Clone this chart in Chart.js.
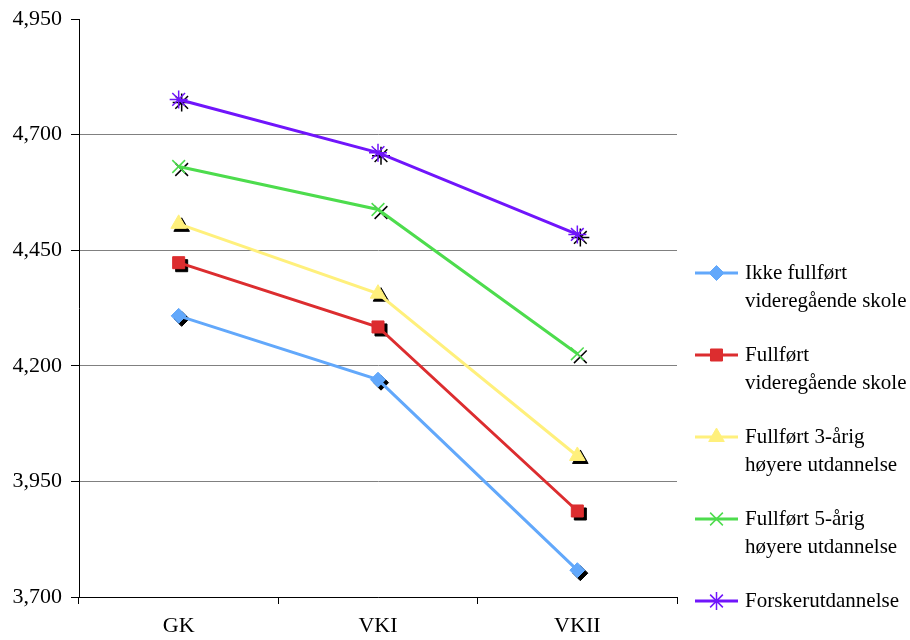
<!DOCTYPE html>
<html>
<head>
<meta charset="utf-8">
<script src="https://cdn.jsdelivr.net/npm/chart.js@4/dist/chart.umd.min.js"></script>
<style>
  html, body { margin: 0; padding: 0; background: #fff; }
  #wrap { width: 910px; height: 640px; position: relative; }
</style>
</head>
<body>
<div id="wrap"><canvas id="c" width="910" height="640"></canvas></div>
<script>
// Categories (school level) and the five series of values
const categories = ['GK', 'VKI', 'VKII'];
const ikkeFullfortVgs = [4308, 4170, 3758];
const fullfortVgs = [4423, 4284, 3886];
const fullfort3Arig = [4507, 4356, 4005];
const fullfort5Arig = [4631, 4538, 4226];
const forskerutdannelse = [4776, 4661, 4484];

// Series names, split over lines as shown in the legend
const seriesNames = [
  ['Ikke fullført', 'videregående skole'],
  ['Fullført', 'videregående skole'],
  ['Fullført 3-årig', 'høyere utdannelse'],
  ['Fullført 5-årig', 'høyere utdannelse'],
  ['Forskerutdannelse']
];

// Value axis range
const yMin = 3700;
const yMax = 4950;
const yStep = 250;

const FONT = "'Liberation Serif', 'Times New Roman', serif";
Chart.defaults.font.family = FONT;
Chart.defaults.font.size = 22;
Chart.defaults.color = '#000';

function series(name, data, color, style, radius) {
  return {
    label: name.join(' '),
    data: data,
    borderColor: color,
    backgroundColor: color,
    borderWidth: 3,
    tension: 0,
    pointStyle: style,
    pointRadius: radius,
    pointBorderWidth: (style === 'crossRot' || style === 'star') ? 1.5 : 1,
    pointBackgroundColor: color,
    pointBorderColor: color,
    fill: false
  };
}

const datasets = [
  series(seriesNames[0], ikkeFullfortVgs, '#62a8fb', 'rectRot', 7.5),
  series(seriesNames[1], fullfortVgs, '#dc2d2f', 'rect', 8.5),
  series(seriesNames[2], fullfort3Arig, '#fff07c', 'triangle', 9),
  series(seriesNames[3], fullfort5Arig, '#4ddc4d', 'crossRot', 9),
  series(seriesNames[4], forskerutdannelse, '#7015fb', 'star', 9)
];

function pointOpts(o) {
  return { pointStyle: o.pointStyle, radius: o.radius, rotation: o.rotation || 0, borderWidth: o.borderWidth };
}

// Black drop shadow under each marker, drawn before the series itself
const markerShadow = {
  id: 'markerShadow',
  beforeDatasetDraw(chart, args) {
    const ctx = chart.ctx;
    ctx.save();
    ctx.fillStyle = '#000';
    ctx.strokeStyle = '#000';
    args.meta.data.forEach(pt => {
      const o = pt.options;
      ctx.lineWidth = o.borderWidth;
      Chart.helpers.drawPoint(ctx, pointOpts(o), pt.x + 3, pt.y + 3);
    });
    ctx.restore();
  }
};

// Legend on the right with two-line entries
const sideLegend = {
  id: 'sideLegend',
  afterDraw(chart) {
    const ctx = chart.ctx;
    const x0 = 695, x1 = 738, tx = 745;
    const top = 273, gap = 82, lineGap = 28;
    ctx.save();
    chart.data.datasets.forEach((ds, i) => {
      const y = top + gap * i;
      ctx.strokeStyle = ds.borderColor;
      ctx.lineWidth = 3;
      ctx.beginPath();
      ctx.moveTo(x0, y);
      ctx.lineTo(x1, y);
      ctx.stroke();
      const o = chart.getDatasetMeta(i).data[0].options;
      ctx.fillStyle = ds.backgroundColor;
      ctx.strokeStyle = ds.borderColor;
      ctx.lineWidth = o.borderWidth;
      Chart.helpers.drawPoint(ctx, pointOpts(o), (x0 + x1) / 2, y);
      ctx.fillStyle = '#000';
      ctx.font = '21px ' + FONT;
      ctx.textAlign = 'left';
      ctx.textBaseline = 'middle';
      seriesNames[i].forEach((line, j) => {
        ctx.fillText(line, tx, y + lineGap * j);
      });
    });
    ctx.restore();
  }
};

new Chart(document.getElementById('c'), {
  type: 'line',
  data: { labels: categories, datasets: datasets },
  plugins: [markerShadow, sideLegend],
  options: {
    responsive: false,
    animation: false,
    locale: 'en-US',
    layout: { padding: { top: 19, right: 233, bottom: 0, left: 0 } },
    plugins: {
      legend: { display: false },
      tooltip: { enabled: false }
    },
    scales: {
      x: {
        offset: true,
        grid: {
          offset: true,
          drawOnChartArea: false,
          drawTicks: true,
          tickLength: 7,
          tickColor: '#000'
        },
        border: { display: true, color: '#000', width: 1 },
        ticks: { padding: 9, font: { size: 22 }, color: '#000' },
        afterFit(scale) { scale.height = 43; }
      },
      y: {
        min: yMin,
        max: yMax,
        grid: {
          color: (c) => (c.tick && c.tick.value === yMax) ? 'rgba(0,0,0,0)' : '#808080',
          lineWidth: 1,
          tickLength: 8,
          tickColor: '#000'
        },
        border: { display: true, color: '#000', width: 1 },
        ticks: {
          stepSize: yStep,
          padding: 9,
          font: { size: 22 },
          color: '#000',
          callback: (v) => v.toLocaleString('en-US')
        },
        afterFit(scale) {
          scale.width = 79;
          scale.paddingTop = 0;
          scale.paddingBottom = 0;
        }
      }
    }
  }
});
</script>
</body>
</html>
